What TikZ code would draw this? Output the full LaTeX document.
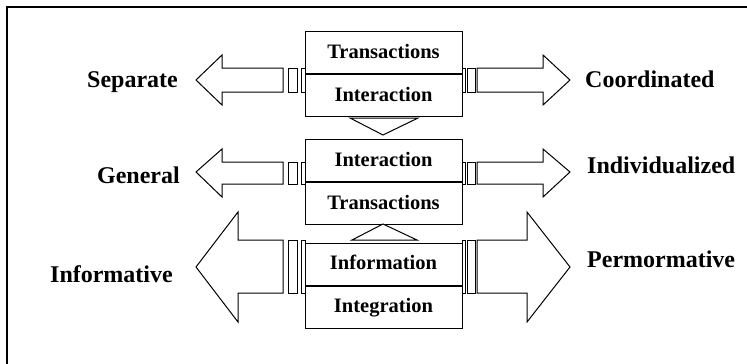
\documentclass[tikz,border=0pt]{standalone}
\usepackage{fontspec}
\setmainfont{Liberation Serif}
\usetikzlibrary{positioning}

\begin{document}
\begin{tikzpicture}[x=1pt, y=-1pt, line join=miter]
  % basic styles
  \tikzstyle{cell}=[draw, line width=1pt, minimum width=157pt, minimum height=42pt,
    inner sep=0pt, text height=14pt, text depth=3pt,
    font=\fontsize{20.5}{24}\selectfont\bfseries]
  \tikzstyle{side}=[inner sep=0pt, font=\fontsize{24}{28}\selectfont\bfseries]
  \tikzstyle{shape lines}=[draw, line width=1pt, fill=white]

  % canvas and the visible part of the frame
  \useasboundingbox (0,0) rectangle (747,364);
  \draw[line width=1.5pt] (7,364) -- (7,7) -- (747,7);

  % Block arrows with their small joints (tip y / shaft top / shaft bottom / head top / head bottom / left base / right base)
  \foreach \y/\ys/\yb/\ht/\hb/\lb/\rb in {80/68/92/55/105/222/543,
                                         172/162/184/149/197/222/543,
                                         267/240/293/212/322/238/527}{
    \draw[shape lines] (196,\y) -- (\lb,\ht) -- (\lb,\ys) -- (283,\ys) -- (283,\yb)
      -- (\lb,\yb) -- (\lb,\hb) -- cycle;
    \draw[shape lines] (570,\y) -- (\rb,\ht) -- (\rb,\ys) -- (477,\ys) -- (477,\yb)
      -- (\rb,\yb) -- (\rb,\hb) -- cycle;
    \draw[shape lines] (288,\ys) rectangle (297,\yb);
    \draw[shape lines] (301,\ys) rectangle (305,\yb);
    \draw[shape lines] (462,\ys) rectangle (465,\yb);
    \draw[shape lines] (467,\ys) rectangle (475,\yb);
  }

  % Stacked boxes
  \node[cell] (trans1) at (383.5,52.5) {Transactions};
  \node[cell, below=0pt of trans1] (inter1) {Interaction};
  \node[cell] (inter2) at (383.5,160.5) {Interaction};
  \node[cell, below=0pt of inter2] (trans2) {Transactions};
  \node[cell] (info3) at (383.5,264) {Information};
  \node[cell, below=0pt of info3] (integ3) {Integration};
  \draw[line width=1.8pt] (inter2.south west) -- (inter2.south east);

  % Small triangles between the boxes
  \draw[shape lines] (350,118) -- (418,118) -- (383,135) -- cycle;
  \draw[shape lines] (352,240) -- (417,240) -- (383,224) -- cycle;

  % Side labels
  \node[side, anchor=base east] (separate) at (178,87) {Separate};
  \node[side, anchor=base east] (general) at (180,183) {General};
  \node[side, anchor=base east] (informative) at (173,282) {Informative};
  \node[side, anchor=base west] (coordinated) at (585,87) {Coordinated};
  \node[side, anchor=base west] (individual) at (587,173) {Individualized};
  \node[side, anchor=base west] (permormative) at (587,267) {Permormative};
\end{tikzpicture}
\end{document}
